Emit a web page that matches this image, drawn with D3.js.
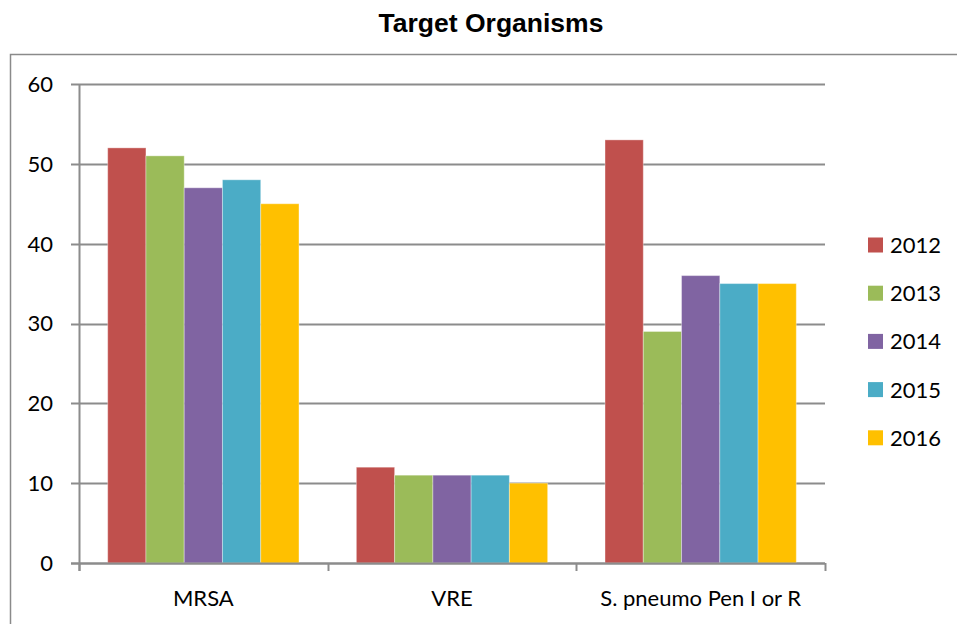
<!DOCTYPE html>
<html>
<head>
<meta charset="utf-8">
<script src="https://cdn.jsdelivr.net/npm/d3@7"></script>
<style>
  body { margin: 0; background: #fff; }
  svg { display: block; }
</style>
</head>
<body>
<div id="chart"></div>
<script>
const categories = ["MRSA", "VRE", "S. pneumo Pen I or R"];
const years = ["2012", "2013", "2014", "2015", "2016"];
const values2012 = [52, 12, 53];
const values2013 = [51, 11, 29];
const values2014 = [47, 11, 36];
const values2015 = [48, 11, 35];
const values2016 = [45, 10, 35];
const yTicks = [0, 10, 20, 30, 40, 50, 60];

const seriesValues = [values2012, values2013, values2014, values2015, values2016];
const colors = ["#C0504D", "#9BBB59", "#8064A2", "#4BACC6", "#FFC000"];

const settings = {
  width: 957,
  height: 624,
  plotLeft: 79,
  plotRight: 825,
  plotTop: 84,
  plotBottom: 563,
  gridColor: "#8c8c8c",
  labelFont: "Lato, 'Open Sans', sans-serif",
  fontSize: "22px",
};

const svg = d3.select("#chart")
  .append("svg")
  .attr("width", settings.width)
  .attr("height", settings.height);

// chart border (runs off the right and bottom edge)
svg.append("path")
  .attr("d", `M10.5,${settings.height + 5} V54.5 H${settings.width + 5}`)
  .attr("fill", "none")
  .attr("stroke", "#8a8a8a")
  .attr("stroke-width", 1.5);

// title
svg.append("text")
  .attr("x", 491)
  .attr("y", 32)
  .attr("text-anchor", "middle")
  .attr("font-family", "'Liberation Sans', Arial, sans-serif")
  .attr("font-weight", "bold")
  .attr("font-size", "26.5px")
  .attr("fill", "#000")
  .text("Target Organisms");

const x0 = d3.scaleBand()
  .domain(categories)
  .range([settings.plotLeft, settings.plotRight])
  .padding(0);

// gap width 150% of a bar on each side
const barW = x0.bandwidth() / (years.length + 1.5);
const x1 = d3.scaleBand()
  .domain(years)
  .range([barW * 0.75, x0.bandwidth() - barW * 0.75])
  .padding(0);

const y = d3.scaleLinear()
  .domain([0, 60])
  .range([settings.plotBottom, settings.plotTop]);

// gridlines + y tick labels
const yAxis = svg.append("g").attr("id", "y-axis");
yAxis.selectAll("line.grid")
  .data(yTicks)
  .join("line")
  .attr("class", "grid")
  .attr("x1", settings.plotLeft - 8)
  .attr("x2", settings.plotRight)
  .attr("y1", d => Math.round(y(d)) + 0.5)
  .attr("y2", d => Math.round(y(d)) + 0.5)
  .attr("stroke", settings.gridColor)
  .attr("stroke-width", 2);

yAxis.selectAll("text")
  .data(yTicks)
  .join("text")
  .attr("x", 53)
  .attr("y", d => y(d))
  .attr("dy", "0.36em")
  .attr("text-anchor", "end")
  .attr("font-family", settings.labelFont)
  .attr("font-size", settings.fontSize)
  .attr("fill", "#000")
  .text(d => d);

// bars
const groups = svg.append("g").attr("id", "bars")
  .selectAll("g")
  .data(categories)
  .join("g")
  .attr("transform", d => `translate(${x0(d)},0)`);

groups.selectAll("rect")
  .data((d, i) => years.map((yr, s) => ({ year: yr, value: seriesValues[s][i], color: colors[s] })))
  .join("rect")
  .attr("x", d => x1(d.year))
  .attr("width", x1.bandwidth())
  .attr("y", d => y(d.value))
  .attr("height", d => y(0) - y(d.value))
  .attr("fill", d => d.color)
  .attr("stroke", "rgba(255,255,255,0.35)")
  .attr("stroke-width", 1);

// axis lines
svg.append("line")
  .attr("x1", settings.plotLeft + 0.5)
  .attr("x2", settings.plotLeft + 0.5)
  .attr("y1", settings.plotTop)
  .attr("y2", settings.plotBottom + 8)
  .attr("stroke", settings.gridColor)
  .attr("stroke-width", 2);

svg.append("line")
  .attr("x1", settings.plotLeft - 8)
  .attr("x2", settings.plotRight)
  .attr("y1", settings.plotBottom + 0.5)
  .attr("y2", settings.plotBottom + 0.5)
  .attr("stroke", settings.gridColor)
  .attr("stroke-width", 2);

// category ticks at band edges
const edges = categories.map(c => x0(c)).concat([settings.plotRight]);
svg.selectAll("line.ctick")
  .data(edges)
  .join("line")
  .attr("class", "ctick")
  .attr("x1", d => Math.round(d) + 0.5)
  .attr("x2", d => Math.round(d) + 0.5)
  .attr("y1", settings.plotBottom)
  .attr("y2", settings.plotBottom + 8)
  .attr("stroke", settings.gridColor)
  .attr("stroke-width", 2);

svg.selectAll("text.cat")
  .data(categories)
  .join("text")
  .attr("class", "cat")
  .attr("x", d => x0(d) + x0.bandwidth() / 2)
  .attr("y", 606)
  .attr("text-anchor", "middle")
  .attr("font-family", settings.labelFont)
  .attr("font-size", settings.fontSize)
  .attr("fill", "#000")
  .text(d => d);

// legend
const legend = svg.append("g").attr("id", "legend")
  .selectAll("g")
  .data(years)
  .join("g")
  .attr("transform", (d, i) => `translate(868, ${245 + i * 48.2})`);

legend.append("rect")
  .attr("x", 0)
  .attr("y", -7.5)
  .attr("width", 15)
  .attr("height", 15)
  .attr("fill", (d, i) => colors[i]);

legend.append("text")
  .attr("x", 22)
  .attr("y", 0)
  .attr("dy", "0.36em")
  .attr("font-family", settings.labelFont)
  .attr("font-size", settings.fontSize)
  .attr("fill", "#000")
  .text(d => d);
</script>
</body>
</html>
